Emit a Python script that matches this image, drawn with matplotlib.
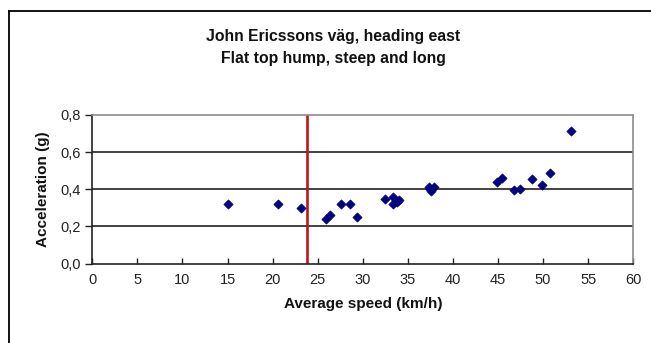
import matplotlib
matplotlib.use("Agg")
import matplotlib.pyplot as plt
from matplotlib.lines import Line2D
from matplotlib import font_manager

# Measured passages over the hump
speed_kmh = [15.0, 20.6, 23.2, 25.9, 26.4, 27.6, 28.6, 29.4, 32.5, 33.3,
             33.4, 34.0, 33.8, 37.3, 37.6, 37.9, 37.4, 44.9, 45.4, 46.8,
             47.4, 48.8, 49.9, 50.8, 53.1]
accel_g = [0.32, 0.32, 0.30, 0.24, 0.26, 0.32, 0.32, 0.25, 0.345, 0.36,
           0.32, 0.34, 0.33, 0.41, 0.39, 0.41, 0.40, 0.44, 0.46, 0.395,
           0.40, 0.455, 0.425, 0.49, 0.715]

speed_limit = 23.8

x_ticks = [0, 5, 10, 15, 20, 25, 30, 35, 40, 45, 50, 55, 60]
y_ticks = [0.0, 0.2, 0.4, 0.6, 0.8]
y_tick_labels = ["0,0", "0,2", "0,4", "0,6", "0,8"]

title_lines = ["John Ericssons väg, heading east", "Flat top hump, steep and long"]
x_label = "Average speed (km/h)"
y_label = "Acceleration (g)"

W, H = 651, 343
fig = plt.figure(figsize=(W / 100, H / 100), dpi=100)
fig.patch.set_facecolor("white")

installed = {f.name for f in font_manager.fontManager.ttflist}
narrow_name = next((n for n in ["Liberation Sans Narrow", "DejaVu Sans Condensed"]
                    if n in installed), "Liberation Sans")
narrow = [narrow_name, "DejaVu Sans"]
arial = ["Liberation Sans", "DejaVu Sans"]

ax = fig.add_axes([92.3 / W, 1 - 263.5 / H, (633.3 - 92.3) / W, (263.5 - 115) / H])
ax.set_xlim(0, 60)
ax.set_ylim(0, 0.8)

# horizontal gridlines
for yv in y_ticks[1:-1]:
    ax.axhline(yv, color="#333333", lw=1.3, zorder=1)

ax.axvline(speed_limit, color="#c0141c", lw=1.9, zorder=2)

ax.scatter(speed_kmh, accel_g, marker="D", s=22, color="#000080",
           edgecolors="#000080", linewidths=0.5, zorder=3)

for side in ["top", "right"]:
    ax.spines[side].set_color("#8c8c8c")
    ax.spines[side].set_linewidth(1.2)
for side in ["left", "bottom"]:
    ax.spines[side].set_color("#222222")
    ax.spines[side].set_linewidth(1.2)

ax.set_xticks(x_ticks)
ax.set_xticklabels([str(t) for t in x_ticks], fontfamily=narrow, fontsize=10.5)
ax.set_yticks(y_ticks)
ax.set_yticklabels(y_tick_labels, fontfamily=narrow, fontsize=10.5)
ax.tick_params(axis="x", direction="in", length=4, width=1, color="#222222",
               pad=7, labelcolor="#222222")
ax.tick_params(axis="y", direction="out", length=5, width=1, color="#222222",
               pad=3, labelcolor="#222222")

ax.set_xlabel(x_label, fontfamily=narrow, fontsize=11, fontweight="bold",
              color="#111111", labelpad=7)
ax.set_ylabel(y_label, fontfamily=narrow, fontsize=11, fontweight="bold",
              color="#111111", labelpad=8)

fig.text(333 / W, 1 - 36 / H, title_lines[0], ha="center", va="center",
         fontfamily=arial, fontsize=11.3, fontweight="bold", color="#111111")
fig.text(333 / W, 1 - 58 / H, title_lines[1], ha="center", va="center",
         fontfamily=arial, fontsize=11.3, fontweight="bold", color="#111111")

# chart area frame
fig.add_artist(Line2D([9 / W, 9 / W], [0, 1 - 10.5 / H], transform=fig.transFigure,
                      color="black", lw=1.3))
fig.add_artist(Line2D([9 / W, 1], [1 - 10.5 / H, 1 - 10.5 / H], transform=fig.transFigure,
                      color="black", lw=1.3))

fig.savefig("out.png", dpi=100, facecolor="white")
